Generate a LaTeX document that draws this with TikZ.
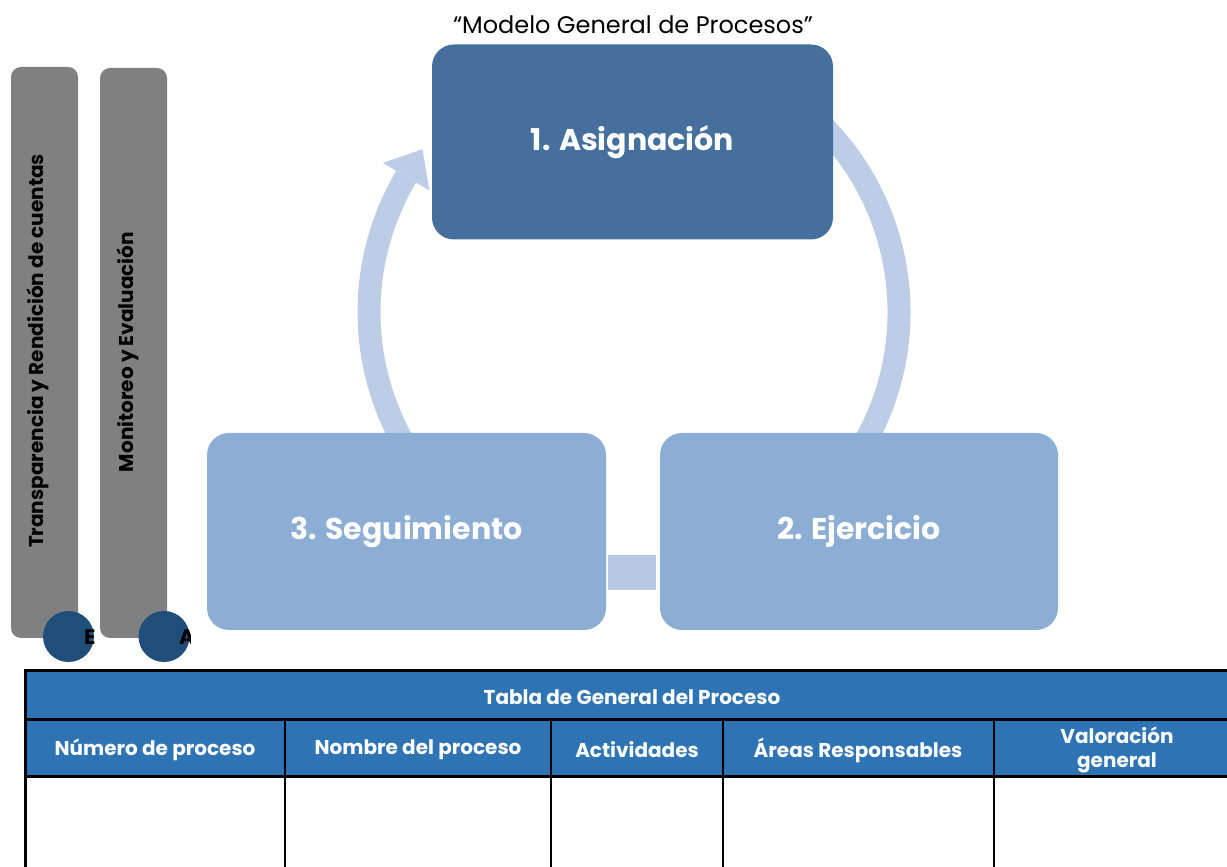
\documentclass[tikz,border=0pt]{standalone}
\usepackage{fontspec}
\setmainfont{Poppins}
\usetikzlibrary{calc}
\definecolor{boxdark}{RGB}{69,112,158}
\definecolor{boxlight}{RGB}{141,174,212}
\definecolor{arcc}{RGB}{188,205,229}
\definecolor{conn}{RGB}{183,201,226}
\definecolor{barg}{RGB}{128,128,128}
\definecolor{circ}{RGB}{31,78,121}
\definecolor{tblue}{RGB}{46,116,181}
\begin{document}
\begin{tikzpicture}[x=1pt,y=1pt,
  procbox/.style={rounded corners=22pt, inner sep=0pt, text=white,
    font=\fontsize{30}{34}\selectfont\bfseries, minimum height=197pt},
  sidebar/.style={fill=barg, rounded corners=10pt},
  sidetext/.style={rotate=90, font=\fontsize{20}{23}\selectfont\bfseries, text=black},
  dot/.style={circle, fill=circ, minimum size=51pt, inner sep=0pt},
  band/.style={arcc, line width=23pt},
  letter/.style={anchor=west, inner sep=0pt, font=\fontsize{21}{24}\selectfont\bfseries},
  thead/.style={text=white, font=\fontsize{20}{24}\selectfont\bfseries, align=center},
  thick line/.style={line width=3pt, black},
  thin line/.style={line width=1.2pt, black}]
\useasboundingbox (0,0) rectangle (1227,867);

% title
\node[font=\fontsize{24}{27}\selectfont] (title) at (633,842) {“Modelo General de Procesos”};

% side bars
\fill[sidebar] (11,229) rectangle (78,800);
\fill[sidebar] (100,229) rectangle (167,799);
\node[sidetext] (t1) at (38,516) {Transparencia y Rendición de cuentas};
\node[sidetext] (t2) at (128,515) {Monitoreo y Evaluación};
\node[dot] (d1) at (68.5,230.5) {};
\node[dot] (d2) at (164,230.5) {};
\begin{scope}
  \clip (43,205) rectangle (94,256);
  \node[letter] (l1) at (84,230) {E};
\end{scope}
\begin{scope}
  \clip (138,205) rectangle (190,256);
  \node[letter] (l2) at (179,230) {A};
\end{scope}

% circular arrow
\coordinate (c) at (634,555);
\draw[band] ([shift={(55:265)}]c) arc[start angle=55, end angle=-35, radius=265];
\draw[band] ([shift={(215:265)}]c) arc[start angle=215, end angle=149.3, radius=265];
\fill[arcc] ($(c)+(149.3:292)$) -- ($(c)+(149.3:238)$) -- ($(c)+(149.3:265)+(59.3:32)$) -- cycle;

% process boxes
\node[procbox, fill=boxdark, minimum width=401pt, minimum height=195pt] (b1) at (632.5,725) {1. Asignación};
\node[procbox, fill=boxlight, minimum width=399pt] (b3) at (406.5,335.5) {3. Seguimiento};
\node[procbox, fill=boxlight, minimum width=398pt] (b2) at (859,335.5) {2. Ejercicio};
\node[fill=conn, minimum width=48pt, minimum height=35pt, inner sep=0pt] (k) at (632,294.5) {};

% table
\fill[tblue] (25,90) rectangle (1240,196);
\draw[thin line] (285,147) -- (285,-10);
\draw[thin line] (551,147) -- (551,-10);
\draw[thin line] (723,147) -- (723,-10);
\draw[thin line] (994,147) -- (994,-10);
\draw[thick line] (25,-10) -- (25,196) -- (1240,196);
\draw[thick line] (25,147) -- (1240,147);
\draw[thick line] (25,90) -- (1240,90);
\node[thead] (h0) at (632,170) {Tabla de General del Proceso};
\node[thead] (h1) at (155,117) {Número de proceso};
\node[thead] (h2) at (418,117) {Nombre del proceso};
\node[thead] (h3) at (637,117) {Actividades};
\node[thead] (h4) at (858,117) {Áreas Responsables};
\node[thead] (h5) at (1117,117) {Valoración\\general};
\end{tikzpicture}
\end{document}
